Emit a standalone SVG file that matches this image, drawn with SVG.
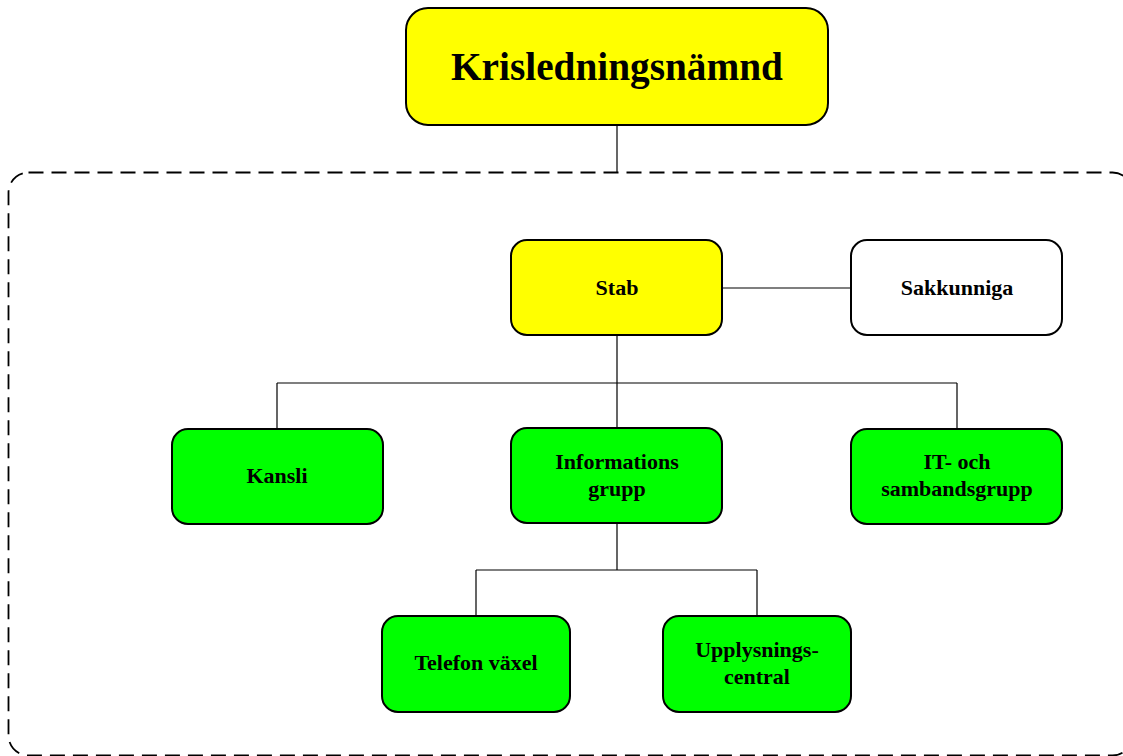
<svg xmlns="http://www.w3.org/2000/svg" width="1123" height="756" viewBox="0 0 1123 756">
<style>
.box{stroke:#000;stroke-width:2}
.y{fill:#ffff00}
.g{fill:#00ff00}
.w{fill:#ffffff}
.lbl{font-family:"Liberation Serif","Times New Roman",serif;font-weight:bold;font-size:22px;fill:#000;text-anchor:middle}
.big{font-size:39.3px}
.conn{stroke:#000;stroke-width:1.2;fill:none}
</style>
<rect width="1123" height="756" fill="#fff"/>
<g id="frame">
<rect x="8.5" y="172.5" width="1124" height="583" rx="20" fill="none" stroke="#000" stroke-width="1.8" stroke-dasharray="15 8"/>
</g>
<g id="connectors">
<path class="conn" d="M617 125V172"/>
<path class="conn" d="M722 288H851"/>
<path class="conn" d="M617 335V383M277 383H957M277 383V429M617 383V428M957 383V429"/>
<path class="conn" d="M617 523V570M476 570H757M476 570V616M757 570V616"/>
</g>
<g id="krisledningsnamnd">
<rect class="box y" x="406" y="8" width="422" height="117" rx="22"/>
<text class="lbl big" x="617" y="80">Krisledningsnämnd</text>
</g>
<g id="stab">
<rect class="box y" x="511" y="240" width="211" height="95" rx="16"/>
<text class="lbl" x="617" y="295">Stab</text>
</g>
<g id="sakkunniga">
<rect class="box w" x="851" y="240" width="211" height="95" rx="16"/>
<text class="lbl" x="957" y="295">Sakkunniga</text>
</g>
<g id="kansli">
<rect class="box g" x="172" y="429" width="211" height="95" rx="16"/>
<text class="lbl" x="277" y="483">Kansli</text>
</g>
<g id="informationsgrupp">
<rect class="box g" x="511" y="428" width="211" height="95" rx="16"/>
<text class="lbl" x="617" y="469">Informations</text>
<text class="lbl" x="617" y="496">grupp</text>
</g>
<g id="it-sambandsgrupp">
<rect class="box g" x="851" y="429" width="211" height="95" rx="16"/>
<text class="lbl" x="957" y="469">IT- och</text>
<text class="lbl" x="957" y="496">sambandsgrupp</text>
</g>
<g id="telefonvaxel">
<rect class="box g" x="382" y="616" width="188" height="96" rx="16"/>
<text class="lbl" x="476" y="670">Telefon växel</text>
</g>
<g id="upplysningscentral">
<rect class="box g" x="663" y="616" width="188" height="96" rx="16"/>
<text class="lbl" x="757" y="657">Upplysnings-</text>
<text class="lbl" x="757" y="684">central</text>
</g>
</svg>
